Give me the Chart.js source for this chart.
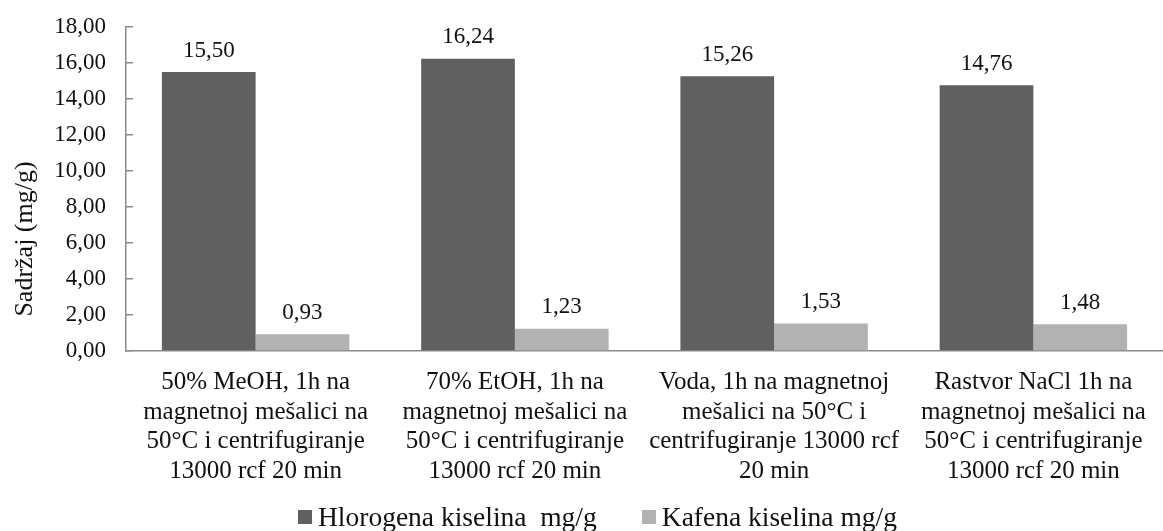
<!DOCTYPE html>
<html>
<head>
<meta charset="utf-8">
<script src="https://cdn.jsdelivr.net/npm/chart.js@4.4.1/dist/chart.umd.min.js"></script>
<style>
  body { margin: 0; background: #fff; overflow: hidden; }
  #wrap { position: relative; width: 1163px; height: 531px; }
  #legend {
    position: absolute; left: 298px; top: 502px;
    display: flex; align-items: center;
    font: 27.5px "Liberation Serif", "Times New Roman", serif;
    line-height: 30px; color: #111; white-space: pre;
  }
  .legend-item { display: flex; align-items: center; margin-right: 45px; }
  .legend-box { width: 14px; height: 14px; margin-right: 6px; }
</style>
</head>
<body>
<div id="wrap">
  <canvas id="sadrzajChart" width="1163" height="531"></canvas>
  <div id="legend"></div>
</div>
<script>
// kategorije (višelinijske oznake na x osi)
const categories = [
  ['50% MeOH, 1h na', 'magnetnoj mešalici na', '50°C i centrifugiranje', '13000 rcf 20 min'],
  ['70% EtOH, 1h na', 'magnetnoj mešalici na', '50°C i centrifugiranje', '13000 rcf 20 min'],
  ['Voda, 1h na magnetnoj', 'mešalici na 50°C i', 'centrifugiranje 13000 rcf', '20 min'],
  ['Rastvor NaCl 1h na', 'magnetnoj mešalici na', '50°C i centrifugiranje', '13000 rcf 20 min']
];
const seriesNames = ['Hlorogena kiselina  mg/g', 'Kafena kiselina mg/g'];
const hlorogena = [15.50, 16.24, 15.26, 14.76];
const kafena = [0.93, 1.23, 1.53, 1.48];
const yMin = 0, yMax = 18, yStep = 2;
const yTitle = 'Sadržaj (mg/g)';

const SERIF = '"Liberation Serif", "Times New Roman", serif';
const AXIS_GRAY = '#8c8c8c';
const fmt = v => v.toFixed(2).replace('.', ',');

// vrednosti iznad stubova
const valueLabels = {
  id: 'valueLabels',
  afterDatasetsDraw(chart) {
    const ctx = chart.ctx;
    ctx.save();
    ctx.font = '23px ' + SERIF;
    ctx.fillStyle = '#111';
    ctx.textAlign = 'center';
    ctx.textBaseline = 'middle';
    chart.data.datasets.forEach((ds, i) => {
      chart.getDatasetMeta(i).data.forEach((bar, j) => {
        ctx.fillText(fmt(ds.data[j]), bar.x, bar.y - 21.5);
      });
    });
    ctx.restore();
  }
};

// naslov y ose
const yAxisTitle = {
  id: 'yAxisTitle',
  afterDraw(chart) {
    const ctx = chart.ctx;
    ctx.save();
    ctx.translate(25, 239);
    ctx.rotate(-Math.PI / 2);
    ctx.font = '26px ' + SERIF;
    ctx.fillStyle = '#111';
    ctx.textAlign = 'center';
    ctx.textBaseline = 'middle';
    ctx.fillText(yTitle, 0, 0);
    ctx.restore();
  }
};

const chart = new Chart(document.getElementById('sadrzajChart'), {
  type: 'bar',
  data: {
    labels: categories,
    datasets: [{
      label: seriesNames[0],
      data: hlorogena,
      backgroundColor: '#606060'
    }, {
      label: seriesNames[1],
      data: kafena,
      backgroundColor: '#b2b2b2'
    }]
  },
  options: {
    responsive: false,
    animation: false,
    devicePixelRatio: 1,
    layout: { padding: { top: 27, left: 0, right: -14, bottom: 28 } },
    categoryPercentage: 0.723,
    barPercentage: 1.0,
    plugins: {
      legend: { display: false },
      tooltip: { enabled: false }
    },
    scales: {
      x: {
        grid: { display: false, drawTicks: false },
        border: { color: AXIS_GRAY, width: 1.5 },
        ticks: {
          color: '#111',
          font: { family: SERIF, size: 25, lineHeight: 1.18 },
          padding: 17,
          maxRotation: 0,
          autoSkip: false
        }
      },
      y: {
        min: yMin,
        max: yMax,
        afterFit(scale) {
          // fiksna širina ose, bez dodatnog razmaka iznad/ispod
          scale.width = 126;
          scale.paddingTop = 0;
          scale.paddingBottom = 0;
        },
        grid: { drawOnChartArea: false, drawTicks: true, tickLength: -7, color: AXIS_GRAY, lineWidth: 1.5 },
        border: { color: AXIS_GRAY, width: 1.5 },
        ticks: {
          stepSize: yStep,
          padding: 27,
          color: '#111',
          font: { family: SERIF, size: 23 },
          callback: v => fmt(v)
        }
      }
    }
  },
  plugins: [valueLabels, yAxisTitle]
});

// legenda ispod grafikona
const legendEl = document.getElementById('legend');
chart.data.datasets.forEach(ds => {
  const item = document.createElement('span');
  item.className = 'legend-item';
  const box = document.createElement('span');
  box.className = 'legend-box';
  box.style.background = ds.backgroundColor;
  const txt = document.createElement('span');
  txt.textContent = ds.label;
  item.appendChild(box);
  item.appendChild(txt);
  legendEl.appendChild(item);
});
</script>
</body>
</html>
